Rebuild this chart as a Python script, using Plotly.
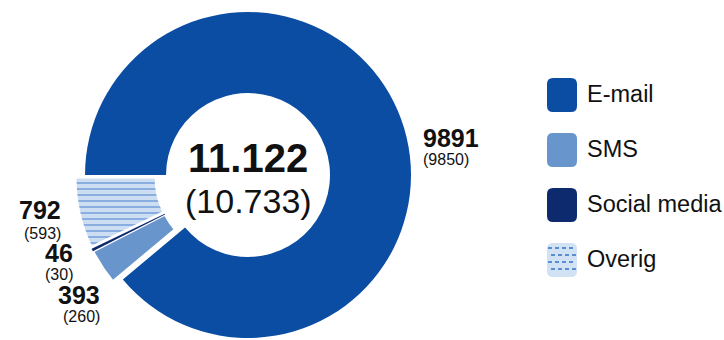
import plotly.graph_objects as go

W, H = 724, 340

# --- data -------------------------------------------------------------
categories = ["E-mail", "SMS", "Social media", "Overig"]
values = [9891, 393, 46, 792]
previous = [9850, 260, 30, 593]

# --- styling ----------------------------------------------------------
colors = ["#0b4da2", "#6896cc", "#0e2a6e", "#cddef3"]
pattern_fg = "#3572c8"
FONT = "Liberation Sans, Arial, Helvetica, sans-serif"
TEXT = "#111111"
TRANSPARENT = "rgba(0,0,0,0)"

R = 163                # outer radius in px
HOLE = 0.503
CX, CY = 248, 175      # ring centre in px
SHIFT = (-10, 2)       # offset of the exploded small slices


def fx(x):
    return x / W


def fy(y):
    return 1 - y / H


def dutch(n):
    return f"{n:,}".replace(",", ".")


def domain(cx, cy, r):
    return dict(x=[fx(cx - r), fx(cx + r)], y=[max(0.0, fy(cy + r)), min(1.0, fy(cy - r))])


common = dict(
    labels=categories,
    values=values,
    sort=False,
    direction="clockwise",
    rotation=-90,
    hole=HOLE,
    textinfo="none",
    hoverinfo="skip",
    showlegend=False,
)

fig = go.Figure()

# main ring: E-mail only
fig.add_trace(go.Pie(
    **common,
    domain=domain(CX, CY, R),
    marker=dict(colors=[colors[0]] + [TRANSPARENT] * 3, line=dict(width=0)),
))

# exploded small slices
fig.add_trace(go.Pie(
    **common,
    domain=domain(CX + SHIFT[0], CY + SHIFT[1], R),
    marker=dict(
        colors=[TRANSPARENT] + colors[1:],
        line=dict(color="white", width=[0, 2.5, 0, 3]),
        pattern=dict(
            shape=["", "", "", "-"],
            fgcolor=pattern_fg,
            bgcolor=colors[3],
            size=6,
            solidity=0.2,
            fgopacity=0.75,
        ),
    ),
))

annotations = []
shapes = []


def text_at(x, y, txt, size, bold=False, anchor="left"):
    annotations.append(dict(
        x=fx(x), y=fy(y), xref="paper", yref="paper",
        xanchor=anchor, yanchor="middle", showarrow=False,
        text=f"<b>{txt}</b>" if bold else txt,
        font=dict(family=FONT, size=size, color=TEXT),
    ))


# centre totals
text_at(CX, 158, dutch(sum(values)), 40, bold=True, anchor="center")
text_at(CX, 201, f"({dutch(sum(previous))})", 34, anchor="center")

# slice labels: (x, y of value line, y of previous line, anchor)
label_pos = {
    "E-mail": (421, 138, 159, "left"),
    "Overig": (63, 210, 233, "right"),
    "Social media": (75, 253, 274, "right"),
    "SMS": (102, 295, 316, "right"),
}
for cat, v, p in zip(categories, values, previous):
    x, yv, yp, anc = label_pos[cat]
    text_at(x, yv, str(v), 25, bold=True, anchor=anc)
    text_at(x, yp, f"({p})", 16, anchor=anc)


# legend with rounded swatches
def rounded_rect(x0, y0, x1, y1, r):
    pts = [
        ("M", [(x0 + r, y0)]), ("L", [(x1 - r, y0)]), ("Q", [(x1, y0), (x1, y0 + r)]),
        ("L", [(x1, y1 - r)]), ("Q", [(x1, y1), (x1 - r, y1)]), ("L", [(x0 + r, y1)]),
        ("Q", [(x0, y1), (x0, y1 - r)]), ("L", [(x0, y0 + r)]), ("Q", [(x0, y0), (x0 + r, y0)]),
    ]
    return " ".join(c + " ".join(f"{fx(a):.5f},{fy(b):.5f}" for a, b in p) for c, p in pts) + " Z"


LEG_X0, LEG_X1 = 547, 577
leg_centres = [95, 150, 205, 260]
for i, (cat, cy) in enumerate(zip(categories, leg_centres)):
    y0, y1 = cy - 17, cy + 17
    fill = colors[i] if cat != "Overig" else "#d2e2f5"
    shapes.append(dict(type="path", xref="paper", yref="paper",
                       path=rounded_rect(LEG_X0, y0, LEG_X1, y1, 6),
                       fillcolor=fill, line=dict(width=0), layer="above"))
    if cat == "Overig":
        for k, yy in enumerate(range(y0 + 5, y1 - 2, 7)):
            off = 0 if k % 2 == 0 else 3
            shapes.append(dict(type="line", xref="paper", yref="paper",
                               x0=fx(LEG_X0 + 1 + off), x1=fx(LEG_X1 - 1), y0=fy(yy), y1=fy(yy),
                               line=dict(color=pattern_fg, width=1.6, dash="4px,3px"),
                               layer="above"))
    text_at(585, cy - 1, cat, 23.5, anchor="left")

fig.update_layout(
    width=W,
    height=H,
    margin=dict(l=0, r=0, t=0, b=0),
    paper_bgcolor="white",
    plot_bgcolor="white",
    annotations=annotations,
    shapes=shapes,
)

fig.write_html("out.html")
